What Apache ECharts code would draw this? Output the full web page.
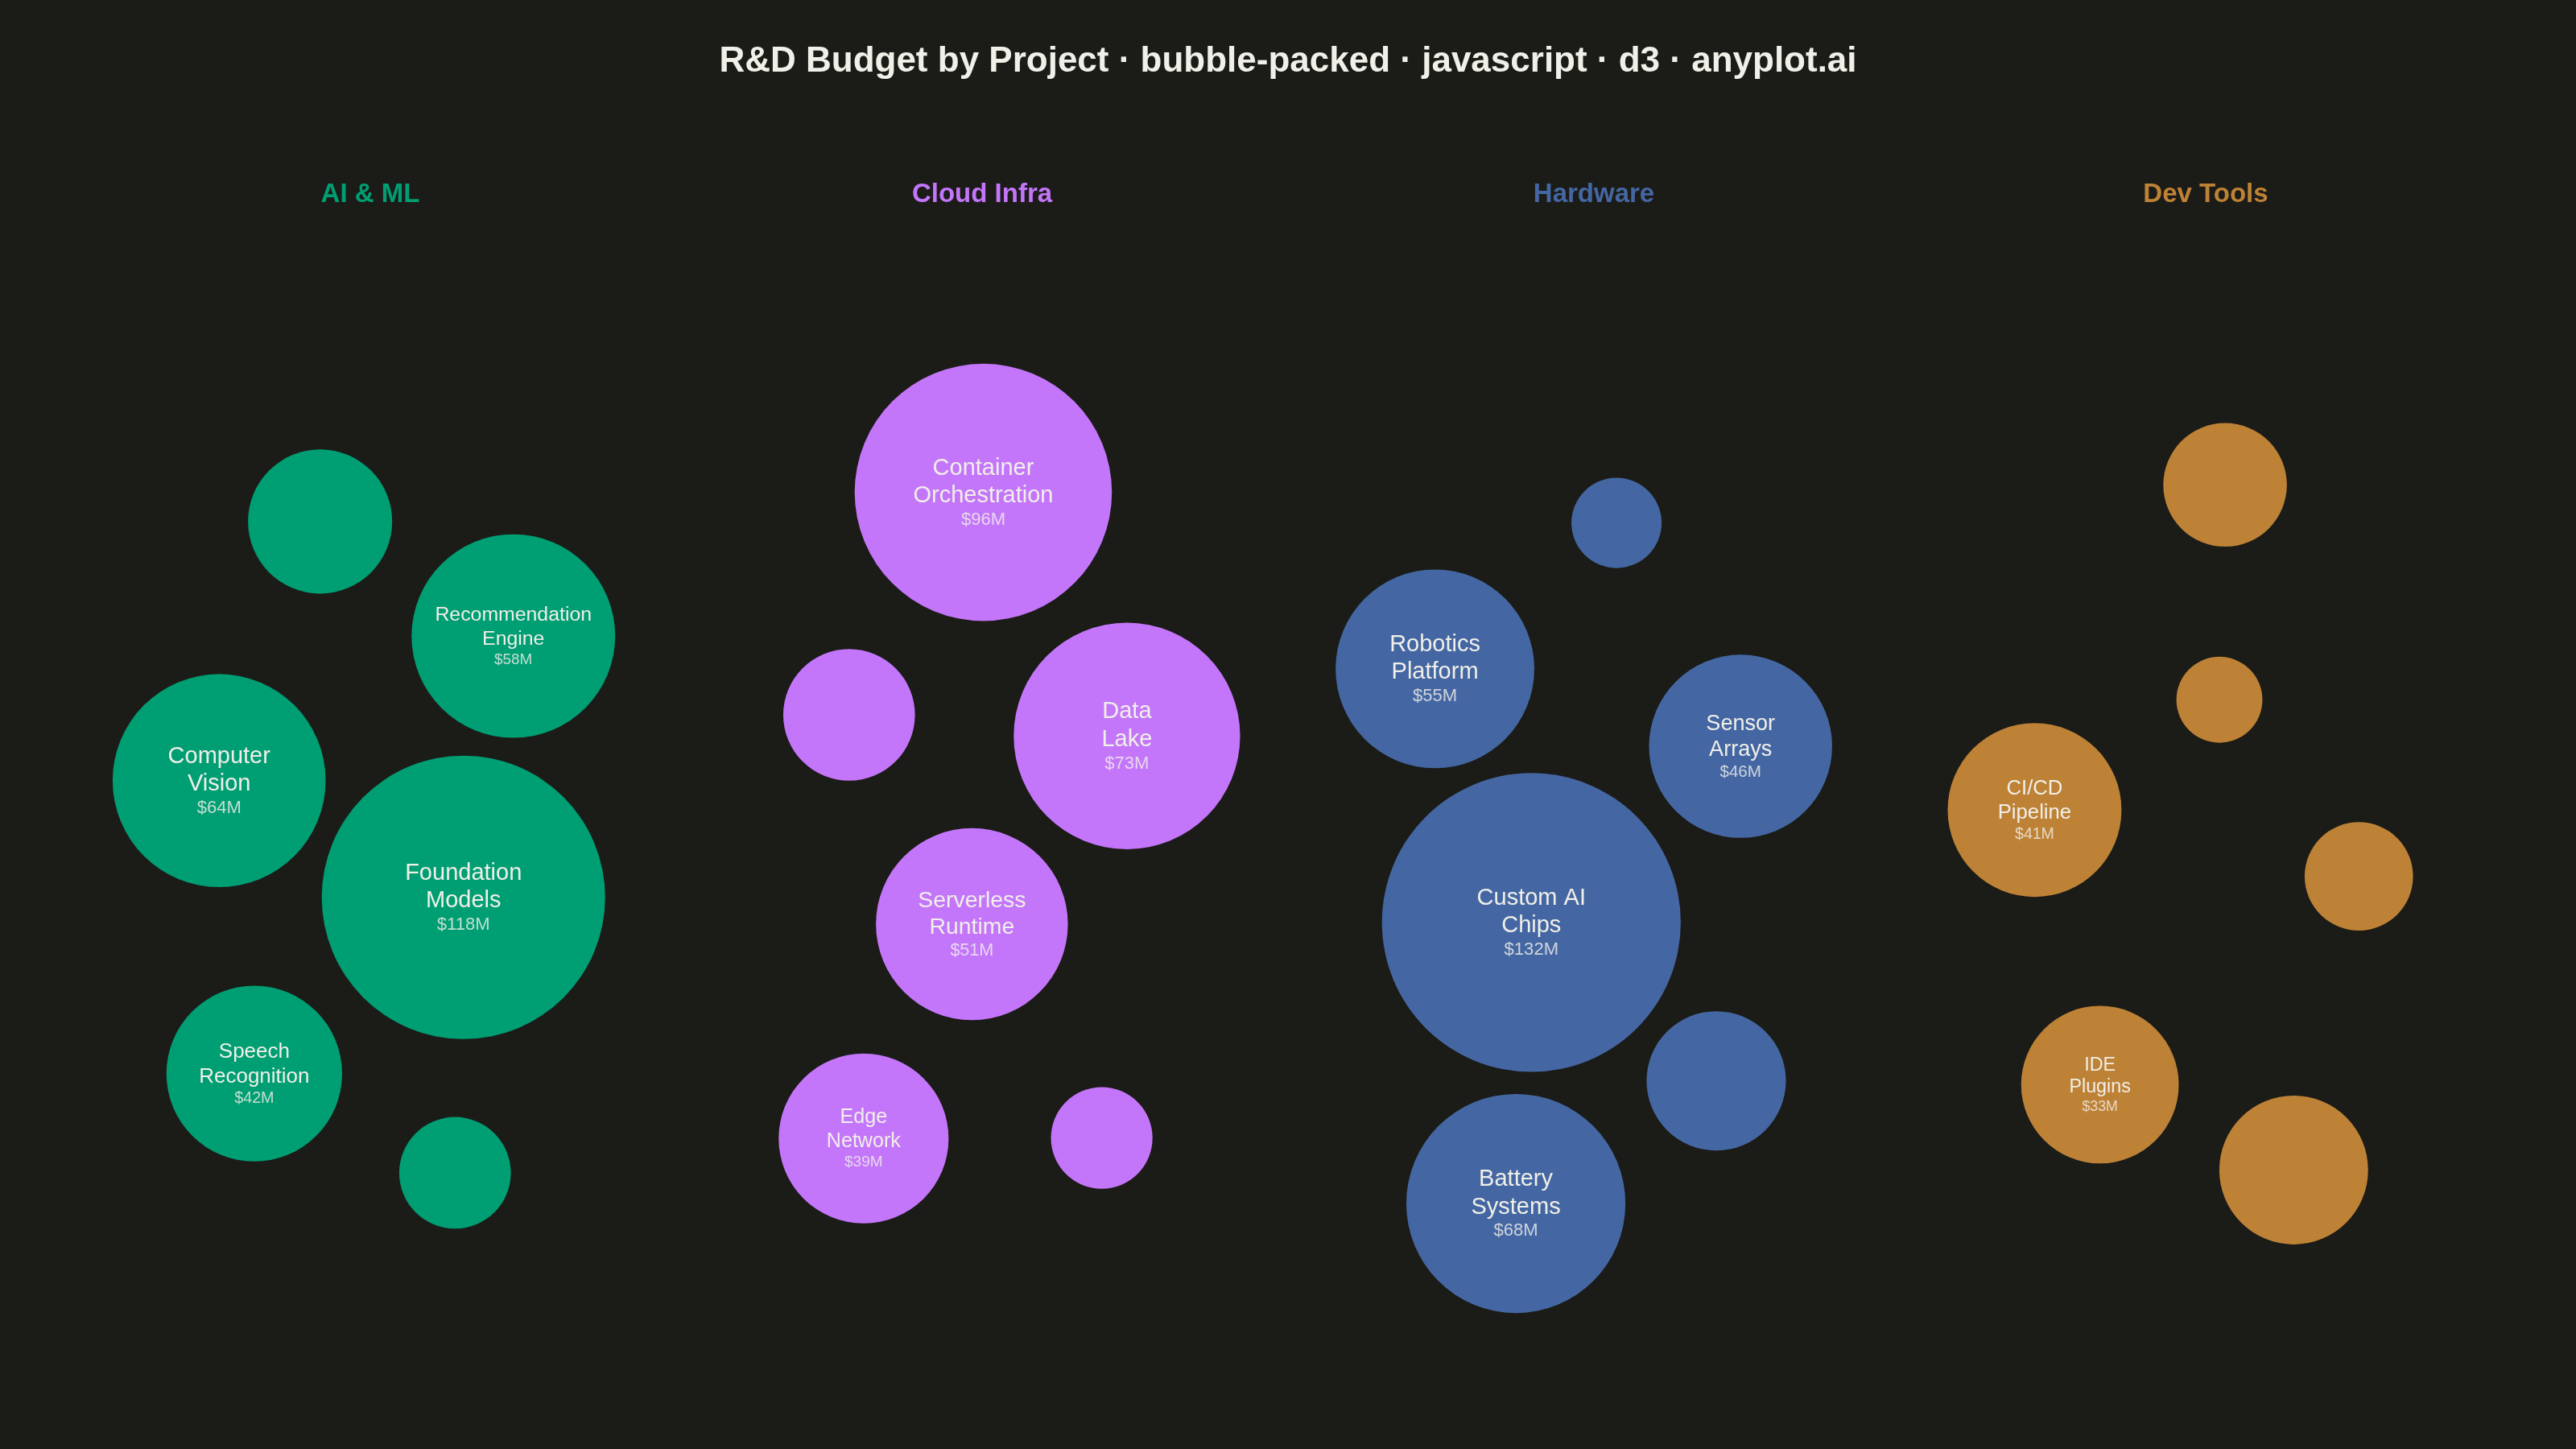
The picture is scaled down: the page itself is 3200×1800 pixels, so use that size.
<!DOCTYPE html>
<html>
<head>
<meta charset="utf-8">
<title>R&amp;D Budget by Project</title>
<script src="https://cdn.jsdelivr.net/npm/echarts@6/dist/echarts.min.js"></script>
<style>
  html, body { margin: 0; padding: 0; background: #1b1b17; }
  #chart { width: 3200px; height: 1800px; }
</style>
</head>
<body>
<div id="chart"></div>
<script>
// data
var categories = ['AI & ML', 'Cloud Infra', 'Hardware', 'Dev Tools'];
var categoryColors = ['#009E73', '#C476FA', '#4467A3', '#BE8236'];

// projects without a printed name are left blank (their labels are hidden in the picture)
var projectNames = [
	'Foundation Models', 'Speech Recognition', '', '', 'Computer Vision', 'Recommendation Engine',
	'Serverless Runtime', '', 'Data Lake', 'Edge Network', 'Container Orchestration', '',
	'Custom AI Chips', '', '', 'Robotics Platform', 'Sensor Arrays', 'Battery Systems',
	'', '', 'IDE Plugins', '', '', 'CI/CD Pipeline'
];
var projectCategory = [
	0, 0, 0, 0, 0, 0,
	1, 1, 1, 1, 1, 1,
	2, 2, 2, 2, 2, 2,
	3, 3, 3, 3, 3, 3
];
// budget, $M
var budgets = [
	118, 42, 27, 15, 64, 58,
	51, 22, 73, 39, 96, 12,
	132, 9, 25, 55, 46, 68,
	8, 14, 33, 19, 29, 41
];

var W = 3200, H = 1800;
var COL_LEFT = 80, COL_WIDTH = 760;
var CENTER_Y = 1060;
var R_MIN = 53.4, R_MAX = 185.6;
var LABEL_MIN_R = 95;
var FONT = 'Liberation Sans, Arial, sans-serif';

var vMin = Math.min.apply(null, budgets), vMax = Math.max.apply(null, budgets);

// sqrt radius scale
function radiusFor(v) {
	var t = (Math.sqrt(v) - Math.sqrt(vMin)) / (Math.sqrt(vMax) - Math.sqrt(vMin));
	return R_MIN + t * (R_MAX - R_MIN);
}

function columnX(c) {
	return COL_LEFT + COL_WIDTH * (c + 0.5);
}

// small force simulation: pull to column centre, repel within a column, no overlaps
function packBubbles(nodes) {
	var slot = [0, 0, 0, 0];
	nodes.forEach(function (d) {
		var k = slot[d.cat]++;
		var rad = 150 * Math.sqrt(0.5 + k), ang = k * Math.PI * (3 - Math.sqrt(5)) + d.cat * 1.3;
		d.x = d.tx + rad * Math.cos(ang);
		d.y = d.ty + rad * Math.sin(ang) * 1.5;
		d.vx = 0;
		d.vy = 0;
	});
	var alpha = 1, alphaMin = 0.001;
	var decay = 1 - Math.pow(alphaMin, 1 / 300);
	var keep = 0.6, pad = 14, charge = -1200;
	while (alpha > alphaMin) {
		alpha += -alpha * decay;
		nodes.forEach(function (d) {
			d.vx += (d.tx - d.x) * 0.05 * alpha;
			d.vy += (d.ty - d.y) * 0.025 * alpha;
		});
		// repulsion inside the same category
		nodes.forEach(function (a) {
			nodes.forEach(function (b) {
				if (a === b || a.cat !== b.cat) return;
				var dx = b.x - a.x, dy = b.y - a.y;
				var l = Math.max(dx * dx + dy * dy, 1);
				a.vx += dx * charge * alpha / l;
				a.vy += dy * charge * alpha / l;
			});
		});
		for (var i = 0; i < nodes.length; i++) {
			var a = nodes[i];
			var xi = a.x + a.vx, yi = a.y + a.vy, ri = a.r + pad;
			for (var j = i + 1; j < nodes.length; j++) {
				var b = nodes[j];
				var rj = b.r + pad, rr = ri + rj;
				var dx = xi - b.x - b.vx, dy = yi - b.y - b.vy;
				var l = dx * dx + dy * dy;
				if (l < rr * rr) {
					if (l === 0) { dx = 0.01 * (i - j); l = dx * dx; }
					l = Math.sqrt(l);
					l = (rr - l) / l;
					dx *= l; dy *= l;
					var w = (rj * rj) / (ri * ri + rj * rj);
					a.vx += dx * w; a.vy += dy * w;
					b.vx -= dx * (1 - w); b.vy -= dy * (1 - w);
				}
			}
		}
		nodes.forEach(function (d) {
			d.x += (d.vx *= keep);
			d.y += (d.vy *= keep);
			d.x = Math.max(d.r + 30, Math.min(W - d.r - 30, d.x));
			d.y = Math.max(d.r + 330, Math.min(H - d.r - 30, d.y));
		});
	}
	return nodes;
}

function splitName(name) {
	var words = name.split(' ');
	var cut = Math.ceil(words.length / 2);
	return [words.slice(0, cut).join(' '), words.slice(cut).join(' ')].filter(function (s) { return s; });
}

function bubbleLabel(name, value, r) {
	if (!name || r < LABEL_MIN_R) {
		return { show: false };
	}
	var lines = splitName(name);
	var longest = Math.max.apply(null, lines.map(function (s) { return s.length; }));
	var fs = Math.min(29, r / 4.2, r * 2.75 / longest);
	var vs = fs * 0.76;
	var text = lines.map(function (s) { return '{n|' + s + '}'; }).join('\n') + '\n{v|$' + value + 'M}';
	return {
		show: true,
		position: 'inside',
		formatter: text,
		rich: {
			n: { fontSize: fs, lineHeight: fs * 1.18, color: '#F0EFE8', fontFamily: FONT },
			v: { fontSize: vs, lineHeight: vs * 1.15, color: 'rgba(240,239,232,0.8)', fontFamily: FONT }
		}
	};
}

function createBubbles() {
	var myChart = echarts.init(document.getElementById('chart'), null, { renderer: 'canvas' });

	var nodes = budgets.map(function (v, i) {
		var c = projectCategory[i];
		return { name: projectNames[i], value: v, cat: c, r: radiusFor(v), tx: columnX(c), ty: CENTER_Y };
	});
	packBubbles(nodes);

	var series = categories.map(function (cat, c) {
		return {
			name: cat,
			type: 'scatter',
			silent: true,
			itemStyle: { color: categoryColors[c], opacity: 1 },
			data: nodes.filter(function (d) { return d.cat === c; }).map(function (d) {
				return {
					name: d.name,
					value: [d.x, d.y, d.value],
					symbolSize: d.r * 2,
					label: bubbleLabel(d.name, d.value, d.r)
				};
			})
		};
	});

	var titles = [{
		text: 'R&D Budget by Project · bubble-packed · javascript · d3 · anyplot.ai',
		left: 'center',
		top: 55,
		padding: 0,
		textStyle: { color: '#F0EFE8', fontSize: 44, fontWeight: 'bold', fontFamily: FONT }
	}];
	categories.forEach(function (cat, c) {
		titles.push({
			text: cat,
			left: columnX(c),
			textAlign: 'center',
			top: 225,
			padding: 0,
			textStyle: { color: categoryColors[c], fontSize: 33, fontWeight: 'bold', fontFamily: FONT }
		});
	});

	var option = {
		backgroundColor: '#1b1b17',
		animation: false,
		title: titles,
		grid: { left: 0, right: 0, top: 0, bottom: 0 },
		xAxis: { type: 'value', min: 0, max: W, show: false },
		yAxis: { type: 'value', min: 0, max: H, inverse: true, show: false },
		series: series
	};
	myChart.setOption(option);
}

createBubbles();
</script>
</body>
</html>
